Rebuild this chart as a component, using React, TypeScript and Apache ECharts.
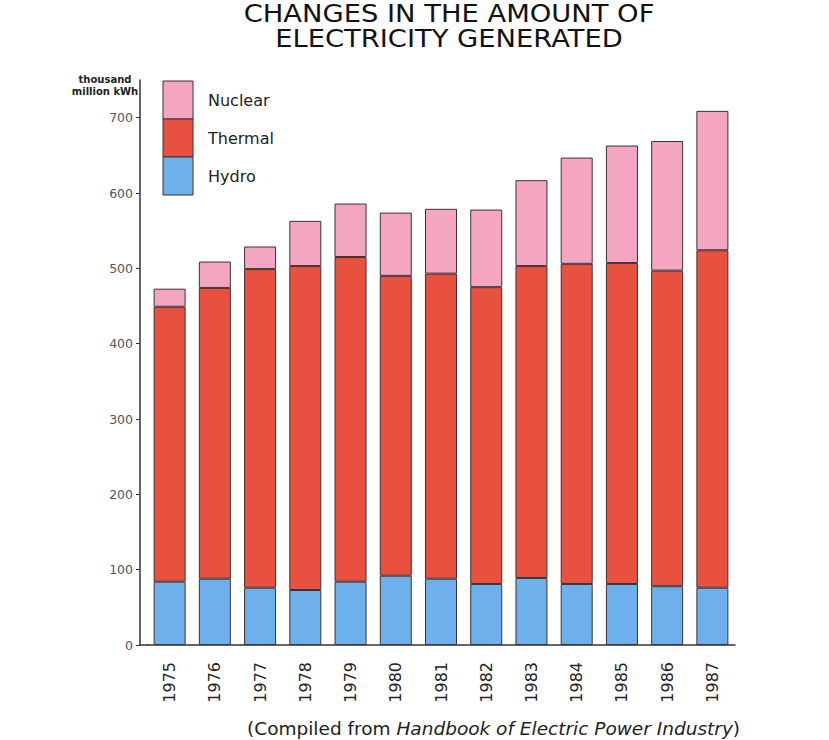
import React, { useEffect, useRef } from "react";
import * as echarts from "echarts";

const years = ["1975", "1976", "1977", "1978", "1979", "1980", "1981", "1982", "1983", "1984", "1985", "1986", "1987"];
const hydro = [84, 88, 76, 73, 84, 92, 88, 81, 89, 81, 81, 78, 76];
const thermal = [365, 386, 423, 430, 431, 398, 405, 394, 414, 425, 426, 419, 448];
const nuclear = [24, 35, 30, 60, 71, 84, 86, 103, 114, 141, 156, 172, 185];
const yTicks = [0, 100, 200, 300, 400, 500, 600, 700];
const legendItems = ["Nuclear", "Thermal", "Hydro"];
const titleLines = ["CHANGES IN THE AMOUNT OF", "ELECTRICITY GENERATED"];

const COLORS: Record<string, string> = {
  Nuclear: "#f4a5c2",
  Thermal: "#e8513f",
  Hydro: "#6db0ec",
};
const BORDER = "#3d3233";
const FONT = "'DejaVu Sans', Verdana, sans-serif";

export default function App() {
  const ref = useRef<HTMLDivElement>(null);
  useEffect(() => {
    document.body.style.margin = "0";
    if (!ref.current) return;
    const chart = echarts.init(ref.current, null, { renderer: "svg" });
    const mkSeries = (name: string, data: number[]) => ({
      name,
      type: "bar",
      stack: "total",
      data,
      barWidth: 32,
      itemStyle: { color: COLORS[name], borderColor: BORDER, borderWidth: 1 },
      emphasis: { disabled: true },
    });
    const legendGraphics: any[] = [];
    const boxX = 163, boxTop = 81, boxH = 38;
    legendItems.forEach((n, i) => {
      legendGraphics.push({
        type: "rect",
        shape: { x: boxX, y: boxTop + i * boxH, width: 30, height: boxH },
        style: { fill: COLORS[n], stroke: BORDER, lineWidth: 1 },
      });
      legendGraphics.push({
        type: "text",
        x: 208,
        y: boxTop + i * boxH + boxH / 2,
        style: { text: n, font: `16px ${FONT}`, fill: "#222", textVerticalAlign: "middle" },
      });
    });
    const titleGraphics = titleLines.map((t, i) => ({
      type: "text",
      x: 449,
      y: 14 + i * 25,
      scaleX: 1.14,
      style: {
        text: t,
        font: `24px ${FONT}`,
        fill: "#111",
        textAlign: "center",
        textVerticalAlign: "middle",
      },
    }));
    chart.setOption({
      animation: false,
      backgroundColor: "#fff",
      grid: { left: 147, right: 94, top: 80, bottom: 95 },
      xAxis: {
        type: "category",
        data: years,
        axisLine: { show: true, lineStyle: { color: "#333", width: 1.5 } },
        axisTick: { show: false },
        axisLabel: { rotate: 90, margin: 17, fontFamily: FONT, fontSize: 16, color: "#222" },
      },
      yAxis: {
        type: "value",
        min: 0,
        max: 750,
        interval: 100,
        offset: 7,
        axisLine: { show: true, lineStyle: { color: "#333", width: 1.5 } },
        axisTick: { show: true, length: 4, lineStyle: { color: "#333" }, customValues: yTicks },
        axisLabel: { fontFamily: FONT, fontSize: 12.5, color: "#555", margin: 7, customValues: yTicks },
        splitLine: { show: false },
      },
      series: [mkSeries("Hydro", hydro), mkSeries("Thermal", thermal), mkSeries("Nuclear", nuclear)],
      graphic: [
        ...titleGraphics,
        {
          type: "line",
          shape: { x1: 139.5, y1: 645, x2: 148, y2: 645 },
          style: { stroke: "#333", lineWidth: 1.5 },
        },
        {
          type: "text",
          x: 105,
          y: 73,
          style: {
            text: "thousand\nmillion kWh",
            font: `bold 10px ${FONT}`,
            fill: "#222",
            textAlign: "center",
            lineHeight: 12,
          },
        },
        ...legendGraphics,
        {
          type: "text",
          x: 247,
          y: 728,
          style: {
            text: "{n|(Compiled from }{i|Handbook of Electric Power Industry}{n|)}",
            textVerticalAlign: "middle",
            rich: {
              n: { fontFamily: FONT, fontSize: 18.5, fill: "#222", color: "#222" },
              i: { fontFamily: FONT, fontSize: 18.5, fontStyle: "italic", fill: "#222", color: "#222" },
            },
          },
        },
      ],
    });
    return () => chart.dispose();
  }, []);
  return <div ref={ref} style={{ position: "absolute", left: 0, top: 0, width: 829, height: 740 }} />;
}
